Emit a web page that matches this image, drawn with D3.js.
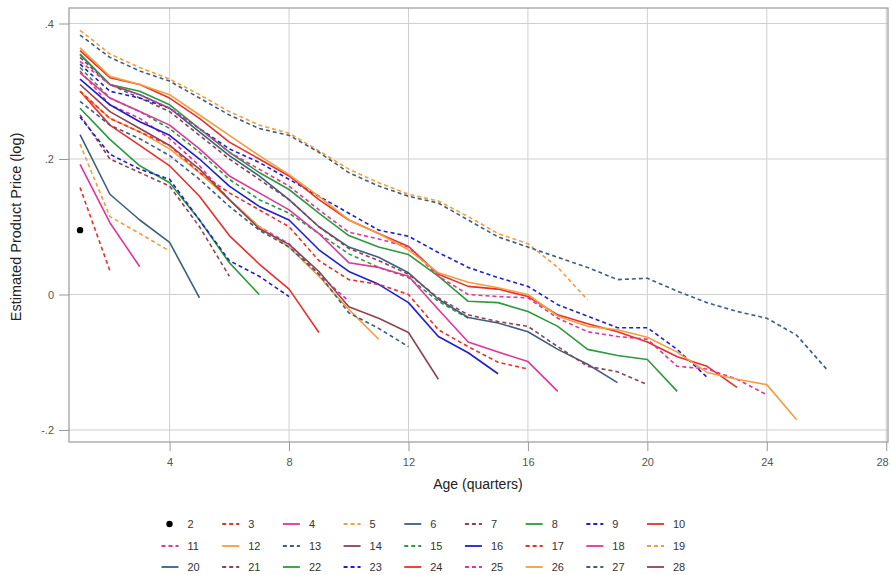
<!DOCTYPE html>
<html>
<head>
<meta charset="utf-8">
<script src="https://cdn.jsdelivr.net/npm/d3@7"></script>
<style>
  html, body { margin: 0; padding: 0; background: #fff; }
  svg { display: block; font-family: "Liberation Sans", Arial, sans-serif; }
</style>
</head>
<body>
<svg id="chart" width="891" height="575"></svg>
<script>
// Cohort labels (entry quarter); cohort k is observed at ages 1 .. k-1
const cohorts = [2,3,4,5,6,7,8,9,10,11,12,13,14,15,16,17,18,19,20,21,22,23,24,25,26,27,28];

// Estimated log product price by age (quarters), one array per cohort
const p02 = [0.095];
const p03 = [0.158, 0.035];
const p04 = [0.192, 0.106, 0.041];
const p05 = [0.222, 0.115, 0.09, 0.064];
const p06 = [0.236, 0.148, 0.11, 0.077, -0.005];
const p07 = [0.265, 0.2, 0.18, 0.16, 0.10, 0.027];
const p08 = [0.275, 0.229, 0.19, 0.165, 0.11, 0.047, 0.0];
const p09 = [0.262, 0.207, 0.185, 0.17, 0.11, 0.05, 0.027, -0.003];
const p10 = [0.30, 0.25, 0.22, 0.19, 0.145, 0.087, 0.045, 0.008, -0.056];
const p11 = [0.33, 0.28, 0.26, 0.23, 0.19, 0.14, 0.10, 0.075, 0.03, -0.01];
const p12 = [0.30, 0.26, 0.24, 0.215, 0.18, 0.14, 0.10, 0.07, 0.027, -0.022, -0.066];
const p13 = [0.285, 0.25, 0.23, 0.205, 0.17, 0.13, 0.095, 0.07, 0.03, -0.027, -0.05, -0.077];
const p14 = [0.31, 0.27, 0.245, 0.22, 0.185, 0.14, 0.097, 0.074, 0.034, -0.018, -0.035, -0.056, -0.125];
const p15 = [0.335, 0.29, 0.27, 0.245, 0.21, 0.17, 0.14, 0.12, 0.09, 0.06, 0.04, 0.025, -0.01, -0.035];
const p16 = [0.318, 0.28, 0.255, 0.235, 0.2, 0.16, 0.13, 0.11, 0.066, 0.034, 0.015, -0.012, -0.062, -0.086, -0.117];
const p17 = [0.30, 0.26, 0.24, 0.22, 0.18, 0.15, 0.125, 0.10, 0.05, 0.022, 0.015, 0.0, -0.052, -0.077, -0.10, -0.11];
const p18 = [0.327, 0.29, 0.27, 0.25, 0.215, 0.175, 0.15, 0.125, 0.09, 0.047, 0.04, 0.027, -0.022, -0.07, -0.085, -0.099, -0.143];
const p19 = [0.39, 0.355, 0.335, 0.318, 0.295, 0.27, 0.25, 0.238, 0.212, 0.185, 0.165, 0.148, 0.138, 0.115, 0.09, 0.075, 0.04, -0.008];
const p20 = [0.354, 0.31, 0.295, 0.275, 0.24, 0.205, 0.175, 0.14, 0.10, 0.07, 0.055, 0.032, -0.007, -0.034, -0.042, -0.055, -0.081, -0.103, -0.13];
const p21 = [0.35, 0.31, 0.29, 0.27, 0.235, 0.20, 0.17, 0.14, 0.10, 0.068, 0.05, 0.03, -0.005, -0.03, -0.04, -0.047, -0.077, -0.106, -0.114, -0.133];
const p22 = [0.355, 0.31, 0.30, 0.28, 0.245, 0.21, 0.18, 0.155, 0.12, 0.087, 0.07, 0.059, 0.027, -0.01, -0.012, -0.025, -0.047, -0.081, -0.09, -0.096, -0.143];
const p23 = [0.34, 0.30, 0.29, 0.275, 0.245, 0.215, 0.195, 0.17, 0.145, 0.12, 0.095, 0.086, 0.062, 0.04, 0.025, 0.012, -0.015, -0.032, -0.049, -0.049, -0.081, -0.122];
const p24 = [0.36, 0.32, 0.31, 0.29, 0.26, 0.225, 0.20, 0.175, 0.14, 0.11, 0.09, 0.071, 0.03, 0.012, 0.008, -0.003, -0.03, -0.043, -0.055, -0.07, -0.092, -0.106, -0.137];
const p25 = [0.344, 0.31, 0.295, 0.275, 0.245, 0.21, 0.185, 0.16, 0.125, 0.092, 0.082, 0.07, 0.027, 0.0, -0.003, -0.005, -0.035, -0.055, -0.062, -0.066, -0.106, -0.11, -0.125, -0.148];
const p26 = [0.364, 0.322, 0.31, 0.295, 0.265, 0.235, 0.205, 0.177, 0.145, 0.11, 0.09, 0.066, 0.032, 0.018, 0.01, 0.0, -0.032, -0.047, -0.052, -0.063, -0.085, -0.115, -0.125, -0.133, -0.185];
const p27 = [0.383, 0.35, 0.33, 0.315, 0.29, 0.265, 0.245, 0.235, 0.21, 0.18, 0.16, 0.145, 0.135, 0.11, 0.085, 0.07, 0.055, 0.04, 0.022, 0.024, 0.005, -0.012, -0.025, -0.035, -0.06, -0.11];
const p28 = [];

const priceSeries = [p02,p03,p04,p05,p06,p07,p08,p09,p10,p11,p12,p13,p14,p15,p16,p17,p18,p19,p20,p21,p22,p23,p24,p25,p26,p27,p28];

const xTicks = [4, 8, 12, 16, 20, 24, 28];
const yTicks = [-0.2, 0, 0.2, 0.4];
const yTickLabels = ["-.2", "0", ".2", ".4"];

// Seven-colour cycle shared by cohorts 3 onward; odd cohorts are dashed
const palette = ["#e8302a", "#e0359a", "#f59d3d", "#3d5f80", "#8c4352", "#2c9a3d", "#1f1fd0"];
const styleOf = k => ({
  color: k === 2 ? "#000" : palette[(k - 3) % 7],
  dashed: k % 2 === 1
});

const svg = d3.select("#chart");
const plot = { left: 69, right: 888, top: 8, bottom: 442 };

const x = d3.scaleLinear().domain([0.63, 28.06]).range([plot.left, plot.right]);
const y = d3.scaleLinear().domain([-0.2177, 0.4229]).range([plot.bottom, plot.top]);

// Gridlines
const grid = svg.append("g");
grid.selectAll("line.gx").data(xTicks).join("line")
  .attr("x1", d => x(d)).attr("x2", d => x(d))
  .attr("y1", plot.top).attr("y2", plot.bottom)
  .attr("stroke", "#cfcfcf").attr("stroke-width", 1);
grid.selectAll("line.gy").data(yTicks).join("line")
  .attr("x1", plot.left).attr("x2", plot.right)
  .attr("y1", d => y(d)).attr("y2", d => y(d))
  .attr("stroke", "#cfcfcf").attr("stroke-width", 1);

// Axes
const xAxis = d3.axisBottom(x).tickValues(xTicks).tickSize(9).tickPadding(7).tickFormat(d3.format("d"));
const gx = svg.append("g").attr("transform", `translate(0,${plot.bottom})`).call(xAxis);
const yAxis = d3.axisLeft(y).tickValues(yTicks).tickSize(10).tickPadding(5)
  .tickFormat(d => yTickLabels[yTicks.indexOf(d)]);
const gy = svg.append("g").attr("transform", `translate(${plot.left},0)`).call(yAxis);
[gx, gy].forEach(g => {
  g.select(".domain").remove();
  g.selectAll(".tick line").attr("stroke", "#999");
  g.selectAll(".tick text").attr("fill", "#555").style("font-size", "11px")
    .style("font-family", "'Liberation Sans', Arial, sans-serif");
});
// keep the last x label inside the canvas
gx.selectAll(".tick text").filter(d => d === 28).attr("text-anchor", "end").attr("dx", "2");

// Plot frame
svg.append("rect")
  .attr("x", plot.left).attr("y", plot.top)
  .attr("width", plot.right - plot.left).attr("height", plot.bottom - plot.top)
  .attr("fill", "none").attr("stroke", "#999").attr("stroke-width", 1.2);

// Cohort price paths
const line = d3.line().x(d => x(d.age)).y(d => y(d.value));
const series = cohorts.map((k, i) => ({
  k,
  points: priceSeries[i].map((v, j) => ({ age: j + 1, value: v })),
  ...styleOf(k)
}));

const lines = svg.append("g");
series.filter(s => s.points.length > 1).forEach(s => {
  lines.append("path")
    .datum(s.points)
    .attr("d", line)
    .attr("fill", "none")
    .attr("stroke", s.color)
    .attr("stroke-width", 1.6)
    .attr("stroke-linejoin", "round")
    .attr("stroke-dasharray", s.dashed ? "4,3" : null);
});
series.filter(s => s.points.length === 1).forEach(s => {
  lines.append("circle")
    .attr("cx", x(s.points[0].age)).attr("cy", y(s.points[0].value))
    .attr("r", 3.2).attr("fill", s.color);
});

// Axis titles
svg.append("text")
  .attr("x", 478).attr("y", 489)
  .attr("text-anchor", "middle").attr("fill", "#222")
  .style("font-size", "14px").text("Age (quarters)");
svg.append("text")
  .attr("transform", "translate(21,227) rotate(-90)")
  .attr("text-anchor", "middle").attr("fill", "#222")
  .style("font-size", "14.5px").text("Estimated Product Price (log)");

// Legend: 9 columns x 3 rows
const legend = svg.append("g");
const colX = d3.scaleLinear().domain([0, 8]).range([161.5, 647]);
const rowY = [524, 546, 567];
series.forEach((s, i) => {
  const col = i % 9, row = Math.floor(i / 9);
  const g = legend.append("g").attr("transform", `translate(${colX(col)},${rowY[row]})`);
  if (s.k === 2) {
    g.append("circle").attr("cx", 8).attr("cy", 0).attr("r", 3.2).attr("fill", s.color);
  } else {
    g.append("line").attr("x1", 0).attr("x2", 17).attr("y1", 0).attr("y2", 0)
      .attr("stroke", s.color).attr("stroke-width", 1.8)
      .attr("stroke-dasharray", s.dashed ? "4,3" : null);
  }
  g.append("text").attr("x", 26).attr("y", 4).attr("fill", "#333")
    .style("font-size", "11px").text(s.k);
});
</script>
</body>
</html>
